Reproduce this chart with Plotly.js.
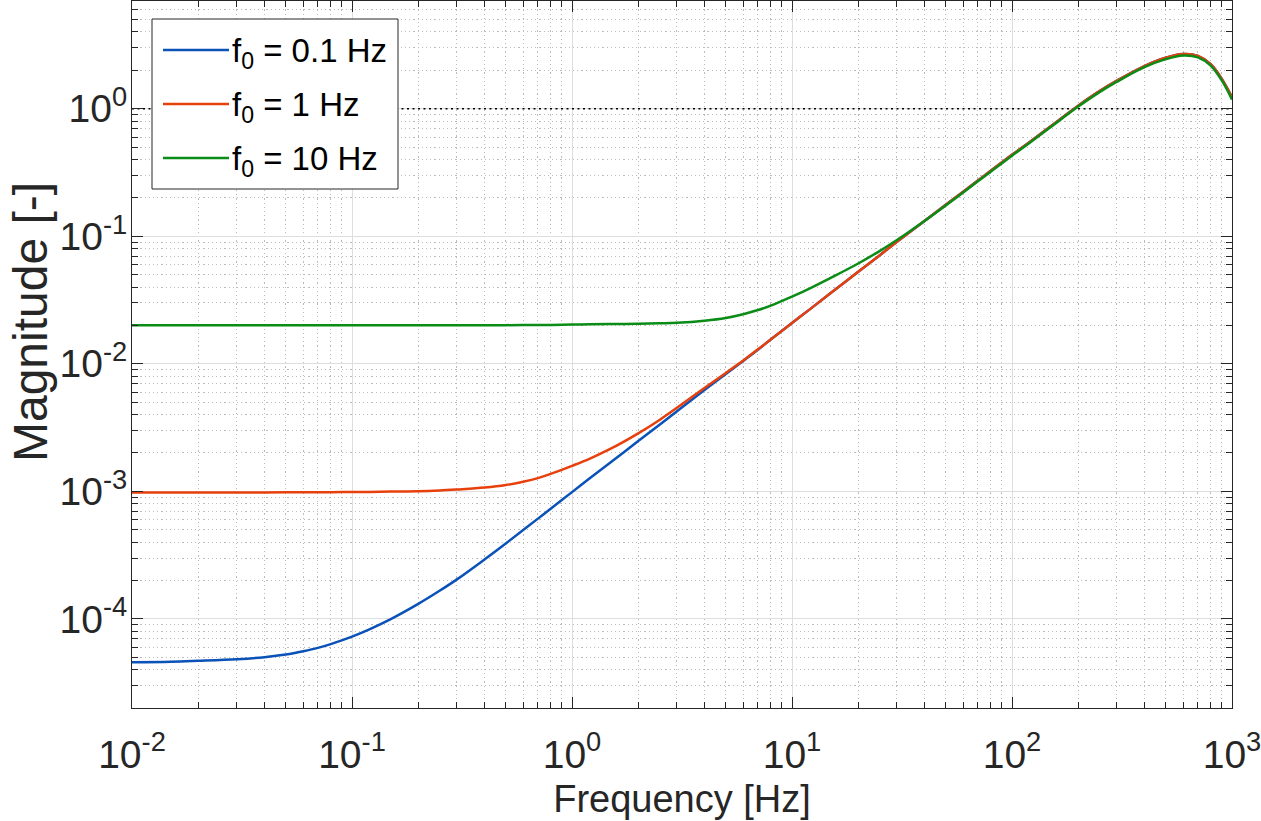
<!DOCTYPE html>
<html>
<head>
<meta charset="utf-8">
<script src="https://cdn.plot.ly/plotly-3.0.1.min.js"></script>
<style>
  html, body { margin: 0; padding: 0; background: #ffffff; }
  #chart { width: 1261px; height: 821px; }
</style>
</head>
<body>
<div id="chart"></div>
<script>
// Frequency points [Hz]
const freqHz = [0.01, 0.015, 0.02, 0.03, 0.04, 0.05, 0.06, 0.07, 0.08, 0.1,
                0.12, 0.15, 0.2, 0.25, 0.3, 0.4, 0.5, 0.6, 0.7, 0.8,
                1, 1.2, 1.5, 2, 2.5, 3, 4, 5, 6, 7,
                8, 10, 12, 15, 20, 25, 30, 40, 50, 60,
                70, 80, 100, 120, 150, 200, 250, 300, 400, 500,
                600, 700, 800, 900, 1000];

// Magnitude for f0 = 0.1 Hz
const magF0_01 = [4.57e-5, 4.61e-5, 4.69e-5, 4.83e-5, 5.01e-5, 5.25e-5, 5.57e-5, 5.92e-5, 6.34e-5, 7.26e-5,
                  8.28e-5, 9.95e-5, 1.31e-4, 1.66e-4, 2.04e-4, 2.92e-4, 3.90e-4, 4.97e-4, 6.11e-4, 7.31e-4,
                  9.86e-4, 1.26e-3, 1.69e-3, 2.48e-3, 3.33e-3, 4.25e-3, 6.22e-3, 8.32e-3, 1.054e-2, 1.29e-2,
                  1.55e-2, 2.09e-2, 2.66e-2, 3.59e-2, 5.27e-2, 7.08e-2, 9.06e-2, 1.32e-1, 1.77e-1, 2.24e-1,
                  2.74e-1, 3.26e-1, 4.35e-1, 5.47e-1, 7.30e-1, 1.057, 1.374, 1.66, 2.16, 2.51,
                  2.69, 2.60, 2.24, 1.71, 1.23];

// Magnitude for f0 = 1 Hz
const magF0_1 = [9.80e-4, 9.80e-4, 9.80e-4, 9.81e-4, 9.81e-4, 9.82e-4, 9.83e-4, 9.84e-4, 9.85e-4, 9.87e-4,
                 9.90e-4, 9.95e-4, 1.00e-3, 1.014e-3, 1.033e-3, 1.07e-3, 1.12e-3, 1.19e-3, 1.27e-3, 1.37e-3,
                 1.585e-3, 1.80e-3, 2.16e-3, 2.85e-3, 3.63e-3, 4.52e-3, 6.46e-3, 8.47e-3, 1.06e-2, 1.30e-2,
                 1.55e-2, 2.09e-2, 2.66e-2, 3.59e-2, 5.27e-2, 7.08e-2, 9.06e-2, 1.32e-1, 1.77e-1, 2.24e-1,
                 2.74e-1, 3.26e-1, 4.35e-1, 5.47e-1, 7.30e-1, 1.057, 1.374, 1.66, 2.16, 2.51,
                 2.69, 2.60, 2.24, 1.71, 1.23];

// Magnitude for f0 = 10 Hz
const magF0_10 = [2.01e-2, 2.01e-2, 2.01e-2, 2.01e-2, 2.01e-2, 2.01e-2, 2.01e-2, 2.01e-2, 2.01e-2, 2.01e-2,
                  2.01e-2, 2.01e-2, 2.01e-2, 2.01e-2, 2.01e-2, 2.01e-2, 2.01e-2, 2.015e-2, 2.02e-2, 2.02e-2,
                  2.03e-2, 2.04e-2, 2.05e-2, 2.06e-2, 2.08e-2, 2.10e-2, 2.18e-2, 2.29e-2, 2.45e-2, 2.64e-2,
                  2.86e-2, 3.37e-2, 3.89e-2, 4.72e-2, 6.12e-2, 7.66e-2, 9.35e-2, 1.318e-1, 1.745e-1, 2.21e-1,
                  2.70e-1, 3.21e-1, 4.29e-1, 5.39e-1, 7.19e-1, 1.04, 1.35, 1.63, 2.12, 2.45,
                  2.62, 2.53, 2.18, 1.66, 1.18];

// Unity reference level
const refLevel = 1;

// Legend labels and line colours
const seriesNames = ['f<sub>0</sub> = 0.1 Hz', 'f<sub>0</sub> = 1 Hz', 'f<sub>0</sub> = 10 Hz'];
const seriesColors = ['#0a52b8', '#e8400c', '#0b8c16'];
const seriesData = [magF0_01, magF0_1, magF0_10];

// Axis tick labels
const xTickVals = [1e-2, 1e-1, 1e0, 1e1, 1e2, 1e3];
const xTickText = ['10<sup>-2</sup>', '10<sup>-1</sup>', '10<sup>0</sup>', '10<sup>1</sup>', '10<sup>2</sup>', '10<sup>3</sup>'];
const yTickVals = [1e-4, 1e-3, 1e-2, 1e-1, 1e0];
const yTickText = ['10<sup>-4</sup>', '10<sup>-3</sup>', '10<sup>-2</sup>', '10<sup>-1</sup>', '10<sup>0</sup>'];

// Minor ticks at 2..9 of each decade
function minorTicks(kFrom, kTo) {
  const out = [];
  for (let k = kFrom; k <= kTo; k++) {
    for (let m = 2; m <= 9; m++) out.push(m * Math.pow(10, k));
  }
  return out;
}

const ink = '#262626';
const font = 'Liberation Sans, Arial, Helvetica, sans-serif';

const traces = [{
  x: [freqHz[0], freqHz[freqHz.length - 1]],
  y: [refLevel, refLevel],
  mode: 'lines',
  line: { color: '#000000', width: 1.7, dash: '2px,3.5px' },
  hoverinfo: 'skip'
}];
seriesData.forEach((mag, i) => {
  traces.push({
    x: freqHz,
    y: mag,
    name: seriesNames[i],
    mode: 'lines',
    line: { color: seriesColors[i], width: 2.5, shape: 'spline', smoothing: 1 }
  });
});

// Axes frame in pixels: plot area 132..1232 x 1..708
const plotL = 132, plotR = 1232, plotT = 1, plotB = 708;
const px2x = p => (p - plotL) / (plotR - plotL);
const px2y = p => (plotB - p) / (plotB - plotT);

const commonAxis = {
  type: 'log',
  ticks: 'inside',
  ticklen: 11,
  tickwidth: 1,
  tickcolor: ink,
  showline: true,
  linecolor: ink,
  linewidth: 1,
  mirror: 'ticks',
  showgrid: true,
  gridcolor: '#dedede',
  gridwidth: 1,
  zeroline: false,
  tickfont: { size: 39, color: ink, family: font },
  tickmode: 'array',
  ticklabeloverflow: 'allow'
};

const minorAxis = {
  ticks: 'inside', ticklen: 6, tickcolor: ink,
  showgrid: true, gridcolor: '#bcbcbc', gridwidth: 1, griddash: '1.2px,3px'
};

const shapes = [{
  type: 'rect', xref: 'paper', yref: 'paper',
  x0: px2x(152), x1: px2x(398), y0: px2y(189), y1: px2y(19),
  fillcolor: '#ffffff', line: { color: ink, width: 1 }, layer: 'above'
}];
const legendRows = [50, 104, 158];
const annotations = [];
legendRows.forEach((row, i) => {
  shapes.push({
    type: 'line', xref: 'paper', yref: 'paper',
    x0: px2x(163), x1: px2x(229), y0: px2y(row), y1: px2y(row),
    line: { color: seriesColors[i], width: 2.5 }, layer: 'above'
  });
  annotations.push({
    xref: 'paper', yref: 'paper', x: px2x(230), y: px2y(row + 3),
    xanchor: 'left', yanchor: 'middle', showarrow: false,
    text: seriesNames[i], font: { size: 33, color: '#000000', family: font }
  });
});
annotations.push({
  xref: 'paper', yref: 'paper', x: px2x(30), y: px2y(322),
  xanchor: 'center', yanchor: 'middle', showarrow: false, textangle: -90,
  text: 'Magnitude [-]', font: { size: 48, color: ink, family: font }
});

const layout = {
  width: 1261, height: 821,
  margin: { l: plotL, r: 1261 - plotR, t: plotT, b: 821 - plotB },
  paper_bgcolor: '#ffffff',
  plot_bgcolor: '#ffffff',
  font: { family: font, color: ink },
  showlegend: false,
  xaxis: Object.assign({}, commonAxis, {
    range: [-2, 3],
    tickvals: xTickVals, ticktext: xTickText,
    ticklabelstandoff: 12,
    minor: Object.assign({ tickvals: minorTicks(-2, 2) }, minorAxis),
    title: { text: 'Frequency [Hz]', font: { size: 38, color: ink, family: font }, standoff: 10 }
  }),
  yaxis: Object.assign({}, commonAxis, {
    range: [Math.log10(2e-5), Math.log10(7)],
    tickvals: yTickVals, ticktext: yTickText,
    ticklabelstandoff: -4,
    minor: Object.assign({ tickvals: minorTicks(-5, 0) }, minorAxis)
  }),
  shapes: shapes,
  annotations: annotations
};

Plotly.newPlot('chart', traces, layout, { staticPlot: true, displayModeBar: false });
</script>
</body>
</html>
